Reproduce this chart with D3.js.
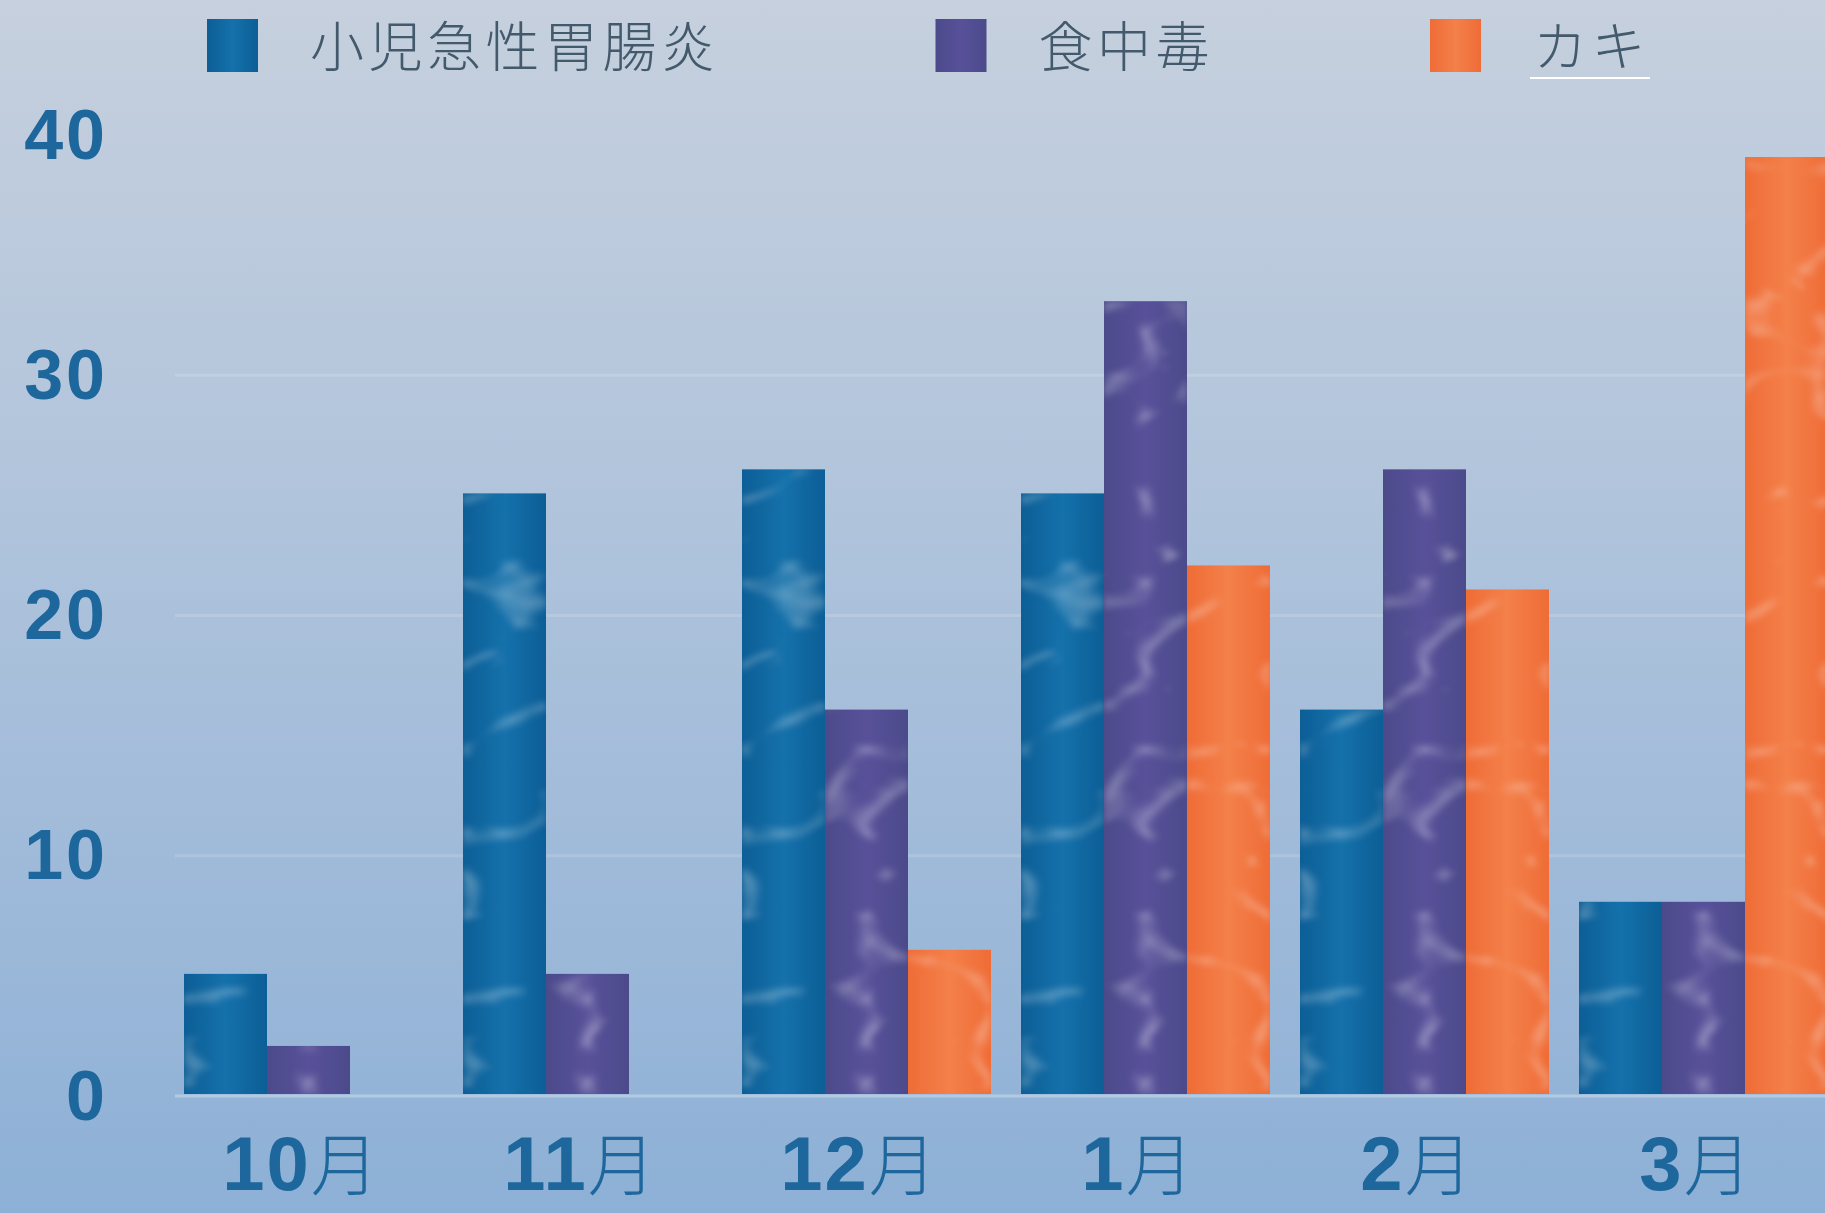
<!DOCTYPE html>
<html>
<head>
<meta charset="utf-8">
<script src="https://cdn.jsdelivr.net/npm/d3@7"></script>
<style>
  html, body { margin: 0; padding: 0; overflow: hidden; }
  svg { display: block; }
</style>
</head>
<body>
<div id="chart"></div>
<script>
// data
const months = ['10月', '11月', '12月', '1月', '2月', '3月'];
const seriesNames = ['小児急性胃腸炎', '食中毒', 'カキ'];
const gastro = [5, 25, 26, 25, 16, 8];
const foodPoison = [2, 5, 16, 33, 26, 8];
const oyster = [0, 0, 6, 22, 21, 39];
const yTicks = [0, 10, 20, 30, 40];

const width = 1825;
const height = 1213;

const colors = ['#0c5e96', '#4c4a8b', '#ef6c36'];
const colorsLight = ['#1571ab', '#58519a', '#f4804a'];

const seriesValues = [gastro, foodPoison, oyster];

const svg = d3.select('#chart')
    .append('svg')
    .attr('width', width)
    .attr('height', height);

const defs = svg.append('defs');

// background gradient
const bg = defs.append('linearGradient')
    .attr('id', 'bg')
    .attr('x1', 0).attr('y1', 0).attr('x2', 0).attr('y2', 1);
bg.append('stop').attr('offset', '0%').attr('stop-color', '#c6d0de');
bg.append('stop').attr('offset', '35%').attr('stop-color', '#b4c6dc');
bg.append('stop').attr('offset', '75%').attr('stop-color', '#9db9d9');
bg.append('stop').attr('offset', '100%').attr('stop-color', '#8db0d6');

// one gradient per series, slightly lighter in the middle
seriesNames.forEach((name, i) => {
    let g = defs.append('linearGradient')
        .attr('id', 'bar' + i)
        .attr('x1', 0).attr('y1', 0).attr('x2', 1).attr('y2', 0);
    g.append('stop').attr('offset', '0%').attr('stop-color', colors[i]);
    g.append('stop').attr('offset', '50%').attr('stop-color', colorsLight[i]);
    g.append('stop').attr('offset', '100%').attr('stop-color', colors[i]);
});

// soft light streaks on the bars
const filter = defs.append('filter')
    .attr('id', 'tex')
    .attr('x', 0).attr('y', 0).attr('width', 1).attr('height', 1)
    .attr('color-interpolation-filters', 'sRGB');
filter.append('feTurbulence')
    .attr('type', 'turbulence')
    .attr('baseFrequency', '0.008 0.012')
    .attr('numOctaves', 2)
    .attr('seed', 11)
    .attr('result', 't');
filter.append('feColorMatrix')
    .attr('in', 't')
    .attr('type', 'matrix')
    .attr('values', '0 0 0 0 1  0 0 0 0 1  0 0 0 0 1  -2.2 0 0 0 0.3')
    .attr('result', 'lines');
filter.append('feGaussianBlur')
    .attr('in', 'lines')
    .attr('stdDeviation', 3)
    .attr('result', 'soft');
filter.append('feComposite')
    .attr('in', 'soft')
    .attr('in2', 'SourceAlpha')
    .attr('operator', 'in')
    .attr('result', 'clip');
let merge = filter.append('feMerge');
merge.append('feMergeNode').attr('in', 'SourceGraphic');
merge.append('feMergeNode').attr('in', 'clip');

svg.append('rect')
    .attr('width', width)
    .attr('height', height)
    .attr('fill', 'url(#bg)');

// scales
const x0 = d3.scaleBand()
    .domain(months)
    .range([184, 184 + 279 * (months.length - 30 / 279)])
    .paddingInner(30 / 279)
    .paddingOuter(0);

const x1 = d3.scaleBand()
    .domain(seriesNames)
    .range([0, x0.bandwidth()]);

const y = d3.scaleLinear()
    .domain([0, 40])
    .range([1094, 133]);

// faint grid lines
svg.append('g')
    .selectAll('line')
    .data(yTicks.filter(d => d < 40))
    .enter()
    .append('line')
    .attr('x1', 175)
    .attr('x2', width)
    .attr('y1', d => y(d) + 2)
    .attr('y2', d => y(d) + 2)
    .attr('stroke', '#ffffff')
    .attr('stroke-opacity', d => d == 0 ? 0.3 : 0.14)
    .attr('stroke-width', 3);

// bars
let rows = months.map((m, i) => ({
    month: m,
    values: seriesNames.map((s, j) => ({ key: s, idx: j, value: seriesValues[j][i] }))
}));

let groups = svg.append('g')
    .selectAll('g')
    .data(rows)
    .enter()
    .append('g')
    .attr('transform', d => 'translate(' + x0(d.month) + ',0)');

groups.selectAll('rect')
    .data(d => d.values.filter(v => v.value > 0))
    .enter()
    .append('rect')
    .attr('x', d => x1(d.key))
    .attr('y', d => y(d.value))
    .attr('width', x1.bandwidth())
    .attr('height', d => y(0) - y(d.value))
    .attr('fill', d => 'url(#bar' + d.idx + ')')
    .attr('filter', 'url(#tex)');

// y axis
let yAxis = d3.axisLeft(y)
    .tickValues(yTicks)
    .tickSize(0)
    .tickPadding(0);

let yg = svg.append('g')
    .attr('transform', 'translate(108,0)')
    .call(yAxis);
yg.select('.domain').remove();
yg.selectAll('.tick text')
    .attr('fill', '#1d679c')
    .attr('font-family', '"Liberation Sans", Arial, sans-serif')
    .attr('font-weight', 'bold')
    .attr('font-size', 70)
    .attr('letter-spacing', 3)
    .attr('dy', '0.36em');

// x axis (kept just inside the bottom edge)
let xAxis = d3.axisBottom(x0)
    .tickSize(0)
    .tickPadding(0);

let xg = svg.append('g')
    .attr('transform', 'translate(-8,1190)')
    .call(xAxis);
xg.select('.domain').remove();
let xt = xg.selectAll('.tick text')
    .attr('y', 0)
    .attr('dy', 0)
    .attr('fill', '#1d679c')
    .attr('font-family', '"Liberation Sans", Arial, "Noto Sans CJK JP", sans-serif')
    .attr('font-size', 76)
    .text(null);
xt.append('tspan')
    .attr('font-weight', 'bold')
    .attr('letter-spacing', 2)
    .text(d => d.replace('月', ''));
xt.append('tspan')
    .attr('font-family', '"Noto Sans CJK JP", sans-serif')
    .attr('font-weight', 300)
    .attr('font-size', 68)
    .text('月');

// legend
let legend = svg.append('g');
let cur = 207;
seriesNames.forEach((name, i) => {
    legend.append('rect')
        .attr('x', cur)
        .attr('y', 19)
        .attr('width', 51)
        .attr('height', 53)
        .attr('fill', 'url(#bar' + i + ')');
    let t = legend.append('text')
        .attr('x', cur + 51 + 52)
        .attr('y', 67)
        .attr('font-family', '"Noto Sans CJK JP", sans-serif')
        .attr('font-weight', 300)
        .attr('font-size', 54)
        .attr('letter-spacing', 4.5)
        .attr('fill', '#43596c')
        .text(name);
    let w = t.node().getComputedTextLength();
    if (i == seriesNames.length - 1) {
        // thin white stroke under the last label, as in the picture
        legend.append('line')
            .attr('x1', cur + 51 + 49)
            .attr('x2', cur + 51 + 52 + w)
            .attr('y1', 78)
            .attr('y2', 78)
            .attr('stroke', '#ffffff')
            .attr('stroke-width', 2);
    }
    cur = cur + 51 + 52 + w + 216;
});
</script>
</body>
</html>
